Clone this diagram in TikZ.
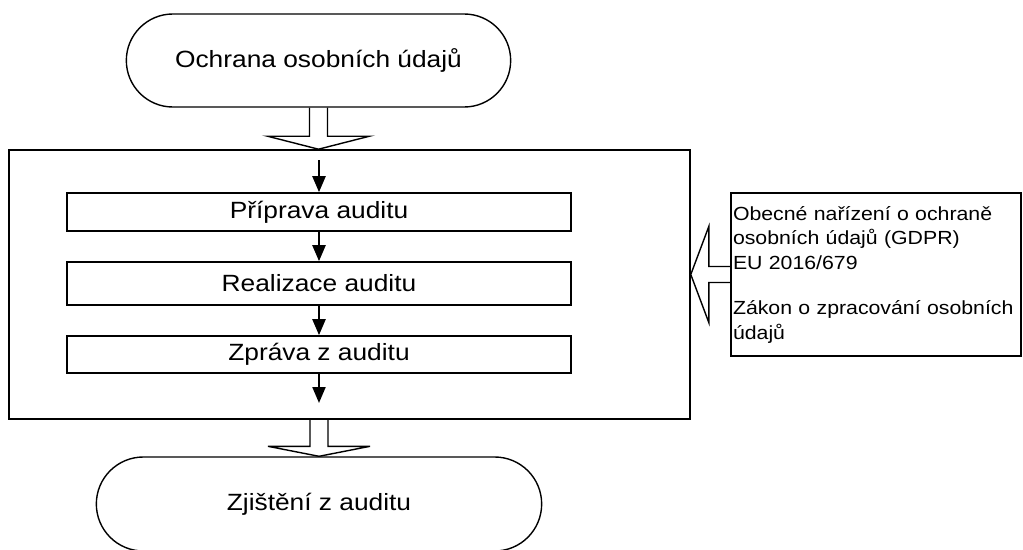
\documentclass[tikz,border=0pt]{standalone}
\usepackage{fontspec}
\setmainfont{Liberation Sans}[FakeStretch=1.12]
\usetikzlibrary{shapes.misc,calc,arrows.meta}

\begin{document}
\begin{tikzpicture}[x=1pt,y=-1pt,
  term/.style={draw,rounded rectangle,line width=1.4pt,minimum width=391pt,minimum height=93pt,font=\fontsize{23.5}{27}\selectfont},
  stepbox/.style={draw,line width=1.6pt,minimum width=504pt,inner sep=0pt,font=\fontsize{23.5}{27}\selectfont},
  hollow/.style={draw,line width=1.4pt,line join=miter},
  flow/.style={line width=2.2pt,-{Triangle[length=16pt,width=13pt]}}]
  \useasboundingbox (0,0) rectangle (1023,549);

  \node (ochrana) at (318.5,60.5) [term]{Ochrana osobních údajů};
  \node (audit) at (349.5,284.5) [draw,line width=1.6pt,minimum width=681pt,minimum height=269pt]{};

  \node (priprava) at (319,212) [stepbox,minimum height=38pt]{Příprava auditu};
  \node (realizace) at (319,283.5) [stepbox,minimum height=43pt]{Realizace auditu};
  \node (zprava) at (319,354.5) [stepbox,minimum height=37pt]{Zpráva z auditu};

  \node (zakony) at (876,274.5) [draw,line width=1.4pt,minimum width=290pt,minimum height=163pt,
    text width=286pt,inner sep=2pt,align=left,font=\fontsize{19}{24.5}\selectfont]
    {Obecné nařízení o ochraně\\osobních údajů (GDPR)\\EU 2016/679\\[21pt]Zákon o zpracování osobních\\údajů};

  \node (zjisteni) at (319,504) [term,minimum width=452pt,minimum height=94pt]{Zjištění z auditu};

  \coordinate (entry) at (319,160);
  \coordinate (exit) at (319,403);

  \draw[flow] (entry) -- (priprava);
  \draw[flow] (priprava) -- (realizace);
  \draw[flow] (realizace) -- (zprava);
  \draw[flow] (zprava) -- (exit);

  % hollow arrows
  \draw[hollow] let \p1=(ochrana.south), \p2=(ochrana.south |- audit.north) in
    (\x1-9pt,\y1) -- (\x1-9pt,\y2+13pt) -- (\x1-51pt,\y2+13pt) -- (\x2,\y2)
    -- (\x1+51pt,\y2+13pt) -- (\x1+9pt,\y2+13pt) -- (\x1+9pt,\y1);
  \draw[hollow] let \p1=(zjisteni.north |- audit.south), \p2=(zjisteni.north) in
    (\x1-9pt,\y1) -- (\x1-9pt,\y2+10pt) -- (\x1-51pt,\y2+10pt) -- (\x2,\y2)
    -- (\x1+51pt,\y2+10pt) -- (\x1+9pt,\y2+10pt) -- (\x1+9pt,\y1);
  \draw[hollow] let \p1=(zakony.west), \p2=(zakony.west -| audit.east) in
    (\x1,\y1+8pt) -- (\x2+18pt,\y1+8pt) -- (\x2+18pt,\y1+48pt) -- (\x2,\y1)
    -- (\x2+18pt,\y1-48pt) -- (\x2+18pt,\y1-8pt) -- (\x1,\y1-8pt);

\end{tikzpicture}
\end{document}
